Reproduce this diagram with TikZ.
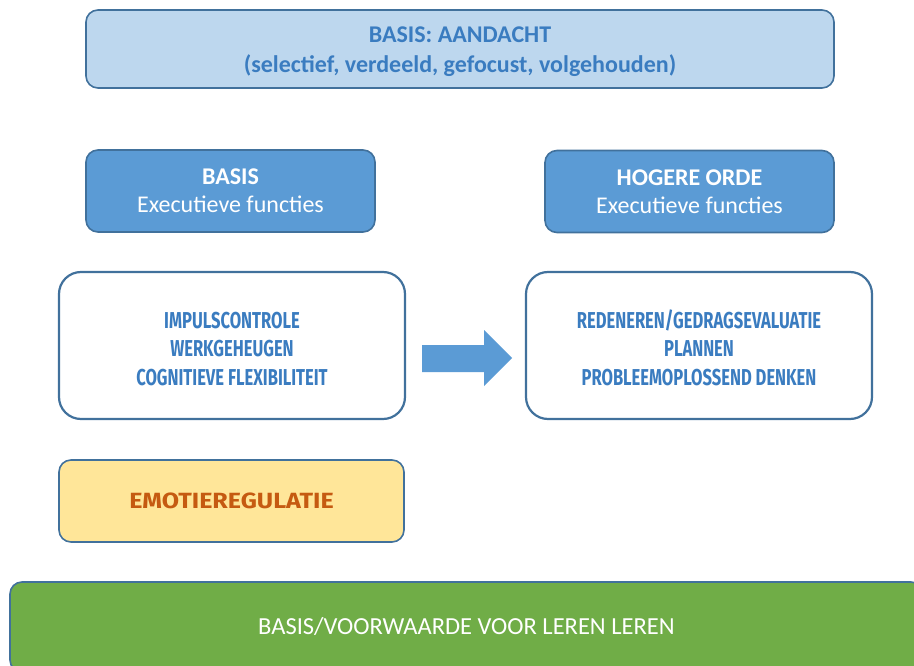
\documentclass[tikz,border=0pt]{standalone}
\usepackage{fontspec}
\setmainfont{Carlito}
\newfontfamily\condfont[FakeStretch=0.72]{Fira Sans}
\newfontfamily\emofont[FakeStretch=1.14]{Fira Sans}
\definecolor{rand}{HTML}{41719C}
\definecolor{lichtblauw}{HTML}{BDD7EE}
\definecolor{middelblauw}{HTML}{5B9BD5}
\definecolor{tekstblauw}{HTML}{3A7CC0}
\definecolor{geel}{HTML}{FFE699}
\definecolor{oranje}{HTML}{C55A11}
\definecolor{groen}{HTML}{70AD47}
\tikzset{
  blok/.style={rectangle, rounded corners=12, draw=rand, line width=1.6pt, align=center, font=\bfseries},
  kop/.style={blok, fill=middelblauw, text=white, minimum width=289, minimum height=82, font=\fontsize{24}{28}\selectfont},
  lijst/.style={blok, rounded corners=22, fill=white, line width=2.2pt, text=tekstblauw, minimum width=346, inner ysep=0, text height=113, text depth=34, font=\condfont\bfseries\fontsize{23}{28.5}\selectfont}
}
\begin{document}
\begin{tikzpicture}[x=1pt,y=-1pt]
  \useasboundingbox (0,0) rectangle (914,666);
  \node[blok, fill=lichtblauw, text=tekstblauw, minimum width=748, inner ysep=0, text height=63, text depth=15, font=\bfseries\fontsize{24}{30}\selectfont] (aandacht) at (460,49) {BASIS: AANDACHT\\(selectief, verdeeld, gefocust, volgehouden)};
  \node[kop] (basis) at (230.5,191) {\textbf{BASIS}\\Executieve functies};
  \node[kop] (hogere) at (689.5,191.5) {\textbf{HOGERE ORDE}\\Executieve functies};
  \node[lijst] (basislijst) at (232,345.5) {IMPULSCONTROLE\\WERKGEHEUGEN\\COGNITIEVE FLEXIBILITEIT};
  \node[lijst] (hogerelijst) at (699,345.5) {REDENEREN/GEDRAGSEVALUATIE\\PLANNEN\\PROBLEEMOPLOSSEND DENKEN};
  % blokpijl tussen de lijsten
  \fill[middelblauw] (422,345) -- (484,345) -- (484,330) -- (512,358) -- (484,386) -- (484,372) -- (422,372) -- cycle;
  \node[blok, fill=geel, text=oranje, minimum width=345, minimum height=82, font=\emofont\bfseries\fontsize{22}{24}\selectfont] (emotie) at (231.5,501) {EMOTIEREGULATIE};
  \node[blok, fill=groen, text=white, minimum width=913, minimum height=90, font=\fontsize{24.5}{28}\selectfont] (leren) at (466.5,627) {BASIS/VOORWAARDE VOOR LEREN LEREN};
\end{tikzpicture}
\end{document}
